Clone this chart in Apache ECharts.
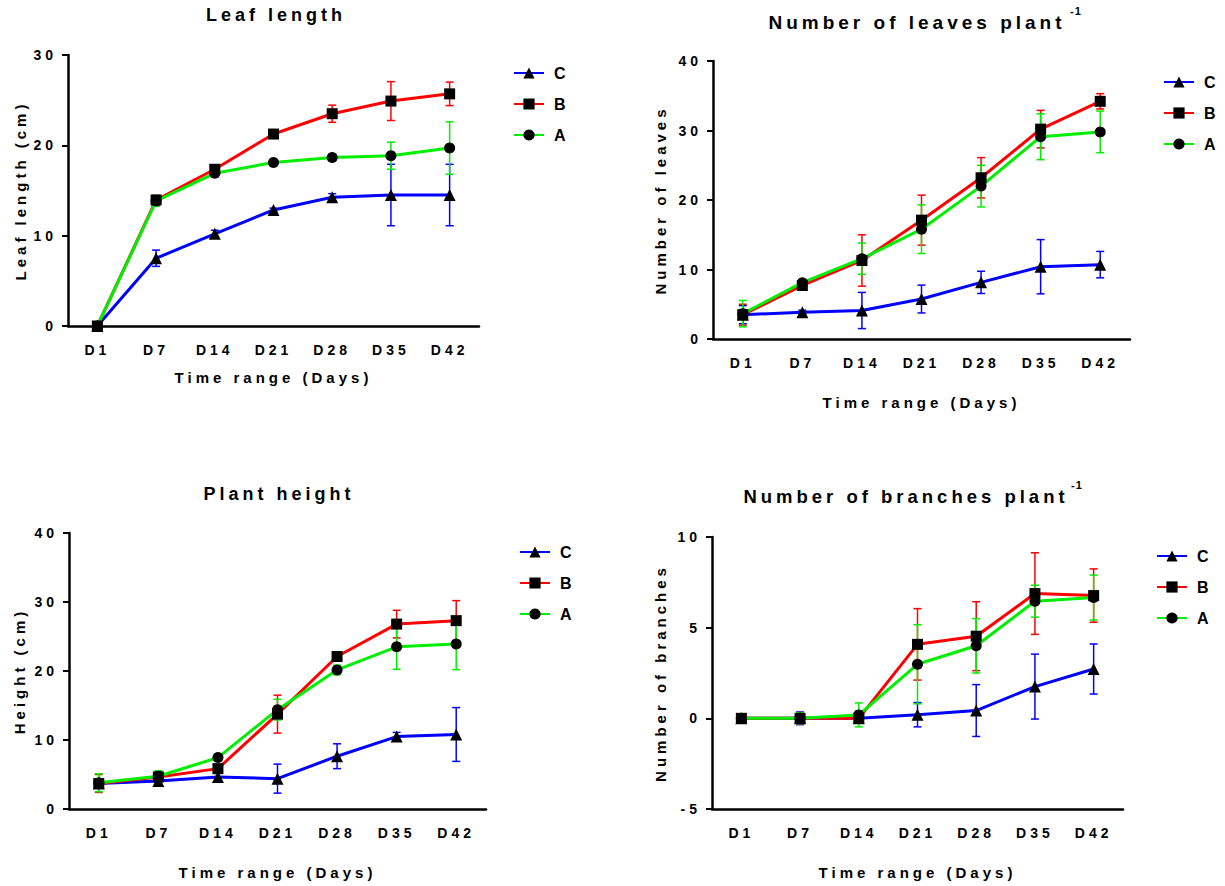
<!DOCTYPE html>
<html>
<head>
<meta charset="utf-8">
<script src="https://cdn.jsdelivr.net/npm/echarts@6/dist/echarts.min.js"></script>
<style>
  html, body { margin: 0; background: #fff; }
  #chart { width: 1225px; height: 886px; }
  #chart text { letter-spacing: 4px; }
  #chart text[style*="11px"] { letter-spacing: 1px; }
</style>
</head>
<body>
<div id="chart"></div>
<script>
const days = ['D1', 'D7', 'D14', 'D21', 'D28', 'D35', 'D42'];
const groups = ['C', 'B', 'A'];

// leaf length (cm)
const leafLenC = [0, 7.5, 10.2, 12.85, 14.25, 14.5, 14.5];
const leafLenCErr = [0, 0.9, 0.4, 0.2, 0.4, 3.4, 3.4];
const leafLenB = [0, 13.95, 17.35, 21.25, 23.5, 24.9, 25.7];
const leafLenBErr = [0, 0.5, 0.2, 0.3, 0.95, 2.15, 1.3];
const leafLenA = [0, 13.85, 16.9, 18.1, 18.65, 18.85, 19.7];
const leafLenAErr = [0, 0.6, 0.15, 0.3, 0.3, 1.5, 2.9];

// number of leaves
const leavesC = [3.5, 3.85, 4.1, 5.75, 8.15, 10.4, 10.7];
const leavesCErr = [1.3, 0.3, 2.6, 2.0, 1.6, 3.9, 1.9];
const leavesB = [3.5, 7.7, 11.3, 17.1, 23.2, 30.2, 34.2];
const leavesBErr = [1.5, 0.4, 3.7, 3.6, 2.9, 2.7, 1.1];
const leavesA = [3.65, 8.1, 11.55, 15.8, 22.0, 29.1, 29.8];
const leavesAErr = [1.9, 0.4, 2.25, 3.5, 3.0, 3.3, 3.0];

// plant height (cm)
const heightC = [3.7, 4.05, 4.65, 4.4, 7.65, 10.5, 10.8];
const heightCErr = [0.6, 0.5, 0.5, 2.1, 1.8, 0.6, 3.9];
const heightB = [3.7, 4.65, 5.85, 13.75, 22.1, 26.8, 27.3];
const heightBErr = [1.3, 0.5, 0.5, 2.75, 0.5, 2.0, 2.9];
const heightA = [3.8, 4.75, 7.45, 14.4, 20.15, 23.5, 23.9];
const heightAErr = [1.3, 0.8, 0.2, 1.5, 0.7, 3.25, 3.7];

// number of branches
const branchesC = [0, 0, 0, 0.2, 0.43, 1.75, 2.72];
const branchesCErr = [0, 0.35, 0, 0.67, 1.43, 1.79, 1.38];
const branchesB = [0, 0, 0, 4.08, 4.53, 6.88, 6.77];
const branchesBErr = [0, 0.3, 0, 1.97, 1.9, 2.25, 1.47];
const branchesA = [0, 0, 0.19, 2.98, 4.0, 6.46, 6.66];
const branchesAErr = [0, 0.3, 0.66, 2.18, 1.5, 0.88, 1.24];

const font = '"Liberation Sans", Arial, sans-serif';
const colors = { C: '#0000ff', B: '#ff0000', A: '#00ee00' };
const symbols = { C: 'triangle', B: 'rect', A: 'circle' };
const symbolSizes = { C: 12, B: 11, A: 11 };

const panels = [
  { means: { C: leafLenC, B: leafLenB, A: leafLenA }, errs: { C: leafLenCErr, B: leafLenBErr, A: leafLenAErr },
    grid: { left: 68, top: 55, width: 411, height: 271 }, yName: 'Leaf length (cm)', yGap: 40, xGap: 44,
    min: 0, max: 30, interval: 10, legend: { left: 508, top: 60 } },
  { means: { C: leavesC, B: leavesB, A: leavesA }, errs: { C: leavesCErr, B: leavesBErr, A: leavesAErr },
    grid: { left: 713, top: 61, width: 417, height: 278 }, yName: 'Number of leaves', yGap: 45, xGap: 56,
    min: 0, max: 40, interval: 10, legend: { left: 1158, top: 69 } },
  { means: { C: heightC, B: heightB, A: heightA }, errs: { C: heightCErr, B: heightBErr, A: heightAErr },
    grid: { left: 69, top: 533, width: 417, height: 276 }, yName: 'Height (cm)', yGap: 42, xGap: 56,
    min: 0, max: 40, interval: 10, legend: { left: 514, top: 539 } },
  { means: { C: branchesC, B: branchesB, A: branchesA }, errs: { C: branchesCErr, B: branchesBErr, A: branchesAErr },
    grid: { left: 712, top: 537, width: 411, height: 272 }, yName: 'Number of branches', yGap: 44, xGap: 56,
    min: -5, max: 10, interval: 5, legend: { left: 1151, top: 543 } }
];

function errorBar(color) {
  return function (params, api) {
    const i = api.value(0);
    const lo = api.coord([i, api.value(1)]);
    const hi = api.coord([i, api.value(2)]);
    if (Math.abs(hi[1] - lo[1]) < 1) return null;
    const cap = 4;
    const style = { stroke: color, lineWidth: 1.5 };
    return {
      type: 'group',
      children: [
        { type: 'line', shape: { x1: lo[0], y1: lo[1], x2: hi[0], y2: hi[1] }, style: style },
        { type: 'line', shape: { x1: lo[0] - cap, y1: lo[1], x2: lo[0] + cap, y2: lo[1] }, style: style },
        { type: 'line', shape: { x1: hi[0] - cap, y1: hi[1], x2: hi[0] + cap, y2: hi[1] }, style: style }
      ]
    };
  };
}

const grid = [], xAxis = [], yAxis = [], legend = [], series = [];
const axisLine = { lineStyle: { color: '#000', width: 2.5 } };
const axisTick = { length: 6, lineStyle: { color: '#000', width: 2 } };
const tickLabel = { color: '#000', fontSize: 14, fontWeight: 'bold', fontFamily: font };
const nameStyle = { color: '#000', fontSize: 15, fontWeight: 'bold', fontFamily: font };

panels.forEach(function (p, k) {
  grid.push(Object.assign({ containLabel: false }, p.grid));
  xAxis.push({
    type: 'category', gridIndex: k, data: days, boundaryGap: true,
    axisLine: Object.assign({ onZero: false }, axisLine),
    axisTick: Object.assign({ alignWithLabel: true }, axisTick),
    axisLabel: Object.assign({ margin: 17, interval: 0 }, tickLabel),
    name: 'Time range (Days)', nameLocation: 'middle', nameGap: p.xGap, nameTextStyle: nameStyle
  });
  yAxis.push({
    type: 'value', gridIndex: k, min: p.min, max: p.max, interval: p.interval,
    axisLine: Object.assign({ show: true }, axisLine),
    axisTick: Object.assign({ show: true }, axisTick),
    axisLabel: Object.assign({ margin: 11 }, tickLabel),
    splitLine: { show: false },
    name: p.yName, nameLocation: 'middle', nameGap: p.yGap, nameTextStyle: nameStyle
  });
  legend.push({
    data: groups, orient: 'vertical', left: p.legend.left, top: p.legend.top,
    itemWidth: 30, itemHeight: 14, itemGap: 15, selectedMode: false,
    textStyle: { color: '#000', fontSize: 16, fontWeight: 'bold', fontFamily: font, padding: [0, 0, 0, 5] }
  });
  groups.forEach(function (g) {
    const m = p.means[g], e = p.errs[g];
    series.push({
      name: g + ' error', type: 'custom', xAxisIndex: k, yAxisIndex: k,
      renderItem: errorBar(colors[g]), silent: true,
      data: m.map(function (v, i) { return [i, v - e[i], v + e[i]]; }),
      encode: { x: 0, y: [1, 2] }
    });
    series.push({
      name: g, type: 'line', xAxisIndex: k, yAxisIndex: k, data: m,
      symbol: symbols[g], symbolSize: symbolSizes[g], showAllSymbol: true,
      itemStyle: { color: '#000' }, lineStyle: { color: colors[g], width: 3 },
      emphasis: { disabled: true }
    });
  });
});

const supFont = 'bold 11px ' + font;
function titleText(text, x, y, size) {
  return { type: 'text', x: x, y: y, style: { text: text, font: 'bold ' + size + 'px ' + font, fill: '#000', textAlign: 'center', textVerticalAlign: 'middle' } };
}
const graphic = [
  titleText('Leaf length', 276, 15, 18),
  titleText('Number of leaves plant', 917, 22, 19),
  { type: 'text', x: 1070, y: 11, style: { text: '-1', font: supFont, fill: '#000', textAlign: 'left', textVerticalAlign: 'middle' } },
  titleText('Plant height', 279, 494, 18),
  titleText('Number of branches plant', 906, 496, 18.5),
  { type: 'text', x: 1071, y: 485, style: { text: '-1', font: supFont, fill: '#000', textAlign: 'left', textVerticalAlign: 'middle' } }
];

const chart = echarts.init(document.getElementById('chart'), null, { renderer: 'svg' });
chart.setOption({
  animation: false,
  backgroundColor: '#fff',
  grid: grid, xAxis: xAxis, yAxis: yAxis, legend: legend, series: series, graphic: graphic
});
</script>
</body>
</html>
